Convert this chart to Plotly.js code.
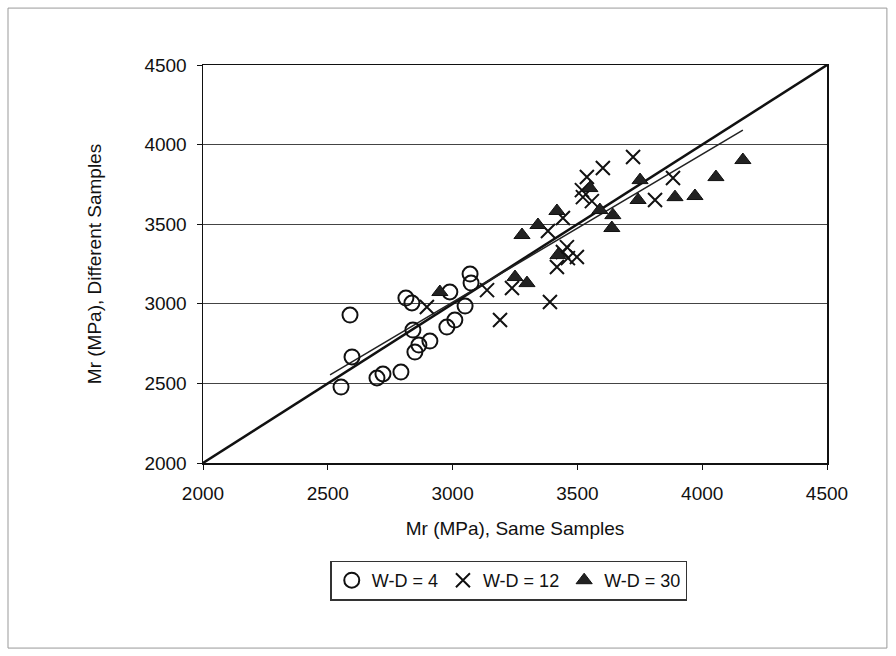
<!DOCTYPE html>
<html>
<head>
<meta charset="utf-8">
<script src="https://cdn.plot.ly/plotly-3.0.1.min.js"></script>
<style>html,body{margin:0;padding:0;background:#fff;}#chart{width:896px;height:656px;}</style>
</head>
<body>
<div id="chart"></div>
<script>
// W-D = 4 (circles)
var wd4X = [2553, 2589, 2597, 2697, 2721, 2793, 2813, 2837, 2841, 2849, 2865, 2909, 2977, 3009, 2989, 3050, 3070, 3074];
var wd4Y = [2477, 2929, 2666, 2534, 2559, 2571, 3036, 3005, 2835, 2697, 2741, 2766, 2854, 2898, 3074, 2986, 3187, 3130];
// W-D = 12 (crosses)
var wd12X = [2897, 3138, 3238, 3190, 3390, 3382, 3418, 3442, 3462, 3498, 3458, 3442, 3522, 3558, 3518, 3538, 3602, 3723, 3811, 3883];
var wd12Y = [2980, 3086, 3099, 2898, 3011, 3457, 3231, 3325, 3287, 3294, 3356, 3539, 3670, 3645, 3714, 3796, 3853, 3922, 3652, 3790];
// W-D = 30 (triangles)
var wd30X = [2949, 3250, 3298, 3278, 3342, 3418, 3422, 3550, 3590, 3638, 3642, 3743, 3751, 3891, 3971, 4055, 4163];
var wd30Y = [3074, 3168, 3130, 3432, 3495, 3583, 3306, 3727, 3589, 3476, 3557, 3652, 3777, 3670, 3677, 3796, 3903];
// line of equality and trend line
var equalX = [2000, 4500];
var equalY = [2000, 4500];
var trendX = [2509, 4163];
var trendY = [2554, 4091];
var seriesNames = ["W-D = 4", "W-D = 12", "W-D = 30"];
var tickVals = [2000, 2500, 3000, 3500, 4000, 4500];

var font = "Liberation Sans, Arial, sans-serif";
var traces = [
  {x: equalX, y: equalY, mode: "lines", line: {color: "#111", width: 2.5}, showlegend: false, hoverinfo: "skip"},
  {x: trendX, y: trendY, mode: "lines", line: {color: "#222", width: 1.5}, showlegend: false, hoverinfo: "skip"},
  {x: wd4X, y: wd4Y, name: seriesNames[0], mode: "markers", type: "scatter",
   marker: {symbol: "circle-open", size: 15, color: "#111", line: {width: 2, color: "#111"}}},
  {x: wd12X, y: wd12Y, name: seriesNames[1], mode: "markers", type: "scatter",
   marker: {symbol: "x-thin-open", size: 14, color: "#111", line: {width: 2, color: "#111"}}},
  {x: wd30X, y: wd30Y, name: seriesNames[2], mode: "markers", type: "scatter",
   marker: {symbol: "triangle-up", size: 14, color: "#222", line: {width: 1, color: "#111"}}}
];

var layout = {
  width: 896, height: 656,
  margin: {l: 203, r: 69, t: 65, b: 193},
  paper_bgcolor: "#fff", plot_bgcolor: "#fff",
  font: {family: font, size: 19, color: "#111"},
  showlegend: true,
  legend: {orientation: "h", x: 0.49, xanchor: "center", y: -0.245, yanchor: "top",
           bordercolor: "#333", borderwidth: 1.5, font: {family: font, size: 18, color: "#111"},
           itemwidth: 30, tracegroupgap: 0},
  xaxis: {range: [2000, 4500], tickvals: tickVals, showgrid: false, zeroline: false,
          showline: true, linecolor: "#111", linewidth: 1.5, mirror: true,
          ticks: "outside", ticklen: 5, tickcolor: "#111", ticklabelstandoff: 8,
          tickfont: {family: font, size: 19, color: "#111"},
          title: {text: "Mr (MPa), Same Samples", font: {family: font, size: 19, color: "#111"}, standoff: 18}},
  yaxis: {range: [2000, 4500], tickvals: tickVals, showgrid: true, gridcolor: "#444", gridwidth: 1, zeroline: false,
          showline: true, linecolor: "#111", linewidth: 1.5, mirror: true,
          ticks: "outside", ticklen: 5, tickcolor: "#111", ticklabelstandoff: 6,
          tickfont: {family: font, size: 19, color: "#111"},
          title: {text: "Mr (MPa), Different Samples", font: {family: font, size: 19, color: "#111"}, standoff: 38}},
  shapes: [
    {type: "rect", xref: "paper", yref: "paper", x0: -0.3125, x1: 1.096, y0: -0.465, y1: 1.143,
     line: {color: "#999", width: 1}, layer: "below"}
  ]
};

Plotly.newPlot("chart", traces, layout, {displayModeBar: false, staticPlot: true});
</script>
</body>
</html>
